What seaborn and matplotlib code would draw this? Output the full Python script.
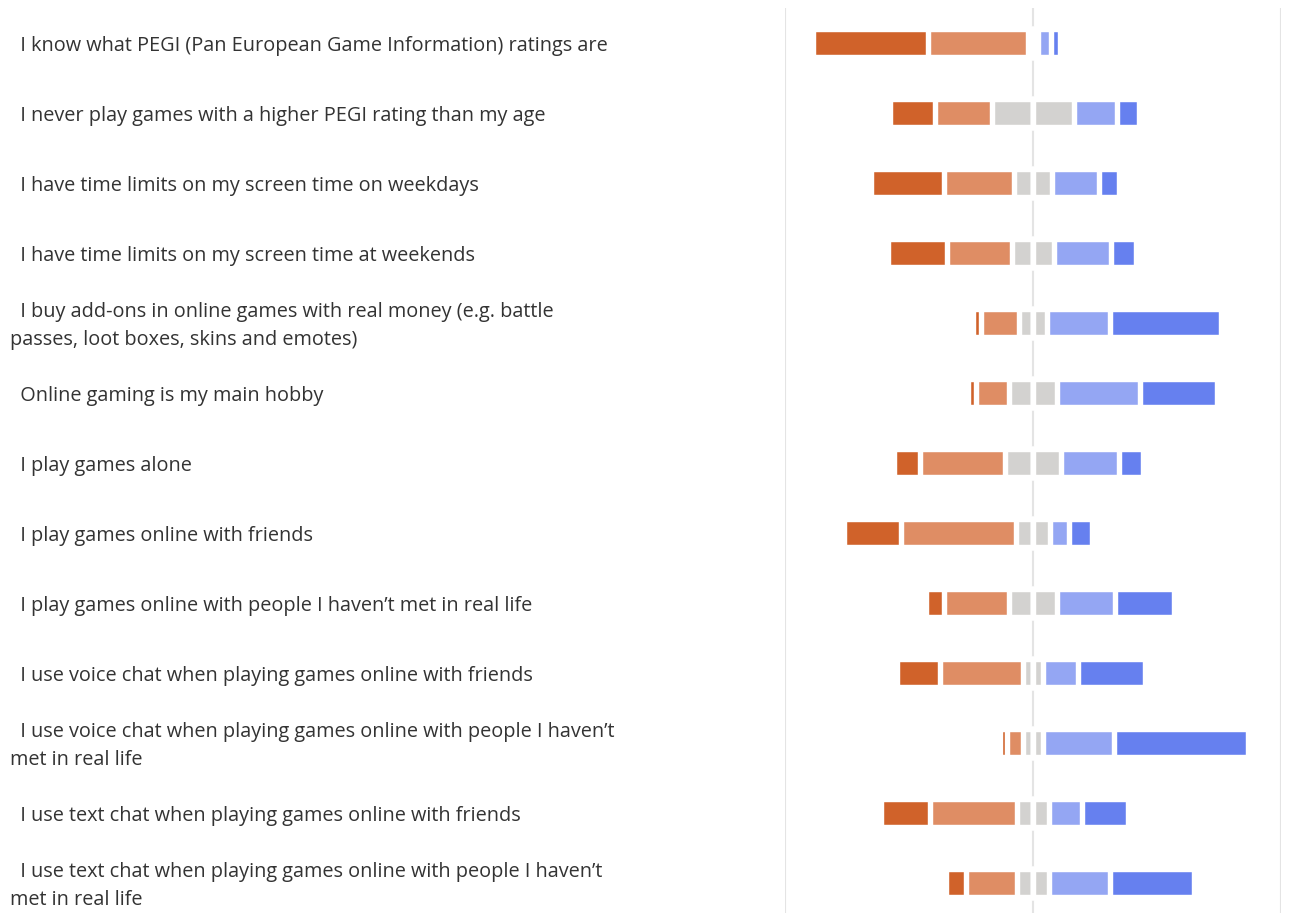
import numpy as np
import pandas as pd
import matplotlib
matplotlib.use("Agg")
import matplotlib.pyplot as plt
import matplotlib.transforms as mtransforms
import seaborn as sns

# Survey statements (top to bottom)
statements = [
    "I know what PEGI (Pan European Game Information) ratings are",
    "I never play games with a higher PEGI rating than my age",
    "I have time limits on my screen time on weekdays",
    "I have time limits on my screen time at weekends",
    "I buy add-ons in online games with real money (e.g. battle\npasses, loot boxes, skins and emotes)",
    "Online gaming is my main hobby",
    "I play games alone",
    "I play games online with friends",
    "I play games online with people I haven’t met in real life",
    "I use voice chat when playing games online with friends",
    "I use voice chat when playing games online with people I haven’t\nmet in real life",
    "I use text chat when playing games online with friends",
    "I use text chat when playing games online with people I haven’t\nmet in real life",
]

# Percent of answers per statement
strongly_agree = [46.6, 18.1, 29.4, 23.7, 3.4, 3.2, 10.4, 22.8, 7.0, 17.4, 3.0, 19.7, 8.3]
agree = [40.0, 23.1, 28.2, 26.3, 15.2, 13.3, 34.5, 46.6, 26.4, 33.5, 6.3, 35.4, 20.3]
neutral = [4.4, 32.7, 15.4, 16.9, 11.4, 19.6, 22.2, 13.4, 19.2, 8.1, 8.1, 12.6, 13.1]
disagree = [4.9, 17.7, 18.8, 23.2, 25.3, 33.5, 23.7, 7.9, 23.3, 14.2, 28.6, 13.5, 24.3]
strongly_disagree = [3.8, 8.6, 8.2, 9.9, 44.8, 30.7, 9.5, 9.2, 23.9, 26.9, 54.0, 18.7, 34.0]

colors = {
    "strongly_agree": "#D0622A",
    "agree": "#DF8D64",
    "neutral": "#D3D2D0",
    "disagree": "#94A6F3",
    "strongly_disagree": "#6680EF",
}

df = pd.DataFrame({
    "statement": statements,
    "strongly_agree": strongly_agree,
    "agree": agree,
    "neutral": neutral,
    "disagree": disagree,
    "strongly_disagree": strongly_disagree,
})

# cumulative extents from the centre line; agree side is negative
half = df["neutral"] / 2
df["left_gray"] = -half
df["left_agree"] = -(half + df["agree"])
df["left_sagree"] = -(half + df["agree"] + df["strongly_agree"])
df["right_gray"] = half
df["right_dis"] = half + df["disagree"]
df["right_sdis"] = half + df["disagree"] + df["strongly_disagree"]

sns.set_theme(style="white")
plt.rcParams["font.family"] = ["Open Sans", "DejaVu Sans"]

fig = plt.figure(figsize=(13.03, 9.13), dpi=100)
ax = fig.add_axes([785 / 1303, 0, 496 / 1303, 905 / 913])

# longest bars first, shorter ones drawn over them
layers = [
    ("left_sagree", "strongly_agree"),
    ("left_agree", "agree"),
    ("left_gray", "neutral"),
    ("right_sdis", "strongly_disagree"),
    ("right_dis", "disagree"),
    ("right_gray", "neutral"),
]
for col, cname in layers:
    sns.barplot(data=df, x=col, y="statement", orient="h", color=colors[cname],
                saturation=1, width=0.39, edgecolor="white", linewidth=3.9,
                errorbar=None, ax=ax)

ax.set_xlim(-100, 100)
ax.set_ylim(12 + 30 / 70, -0.5)
ax.set_xlabel("")
ax.set_ylabel("")
ax.set_xticks([-100, 0, 100])
ax.set_xticklabels([])
ax.set_yticks([])
ax.tick_params(length=0)
ax.set_axisbelow(True)
ax.xaxis.grid(True, color="#E4E4E4", linewidth=1.5, linestyle="-")
sns.despine(ax=ax, left=True, bottom=True)

# statement labels on the left side of the figure
trans = mtransforms.blended_transform_factory(fig.transFigure, ax.transData)
for i, label in enumerate(statements):
    ax.text(10 / 1303, i + 0.04, "  " + label, transform=trans, ha="left", va="center",
            fontsize=14.3, color="#333333", linespacing=1.5, clip_on=False)

fig.savefig("out.png", dpi=100)
